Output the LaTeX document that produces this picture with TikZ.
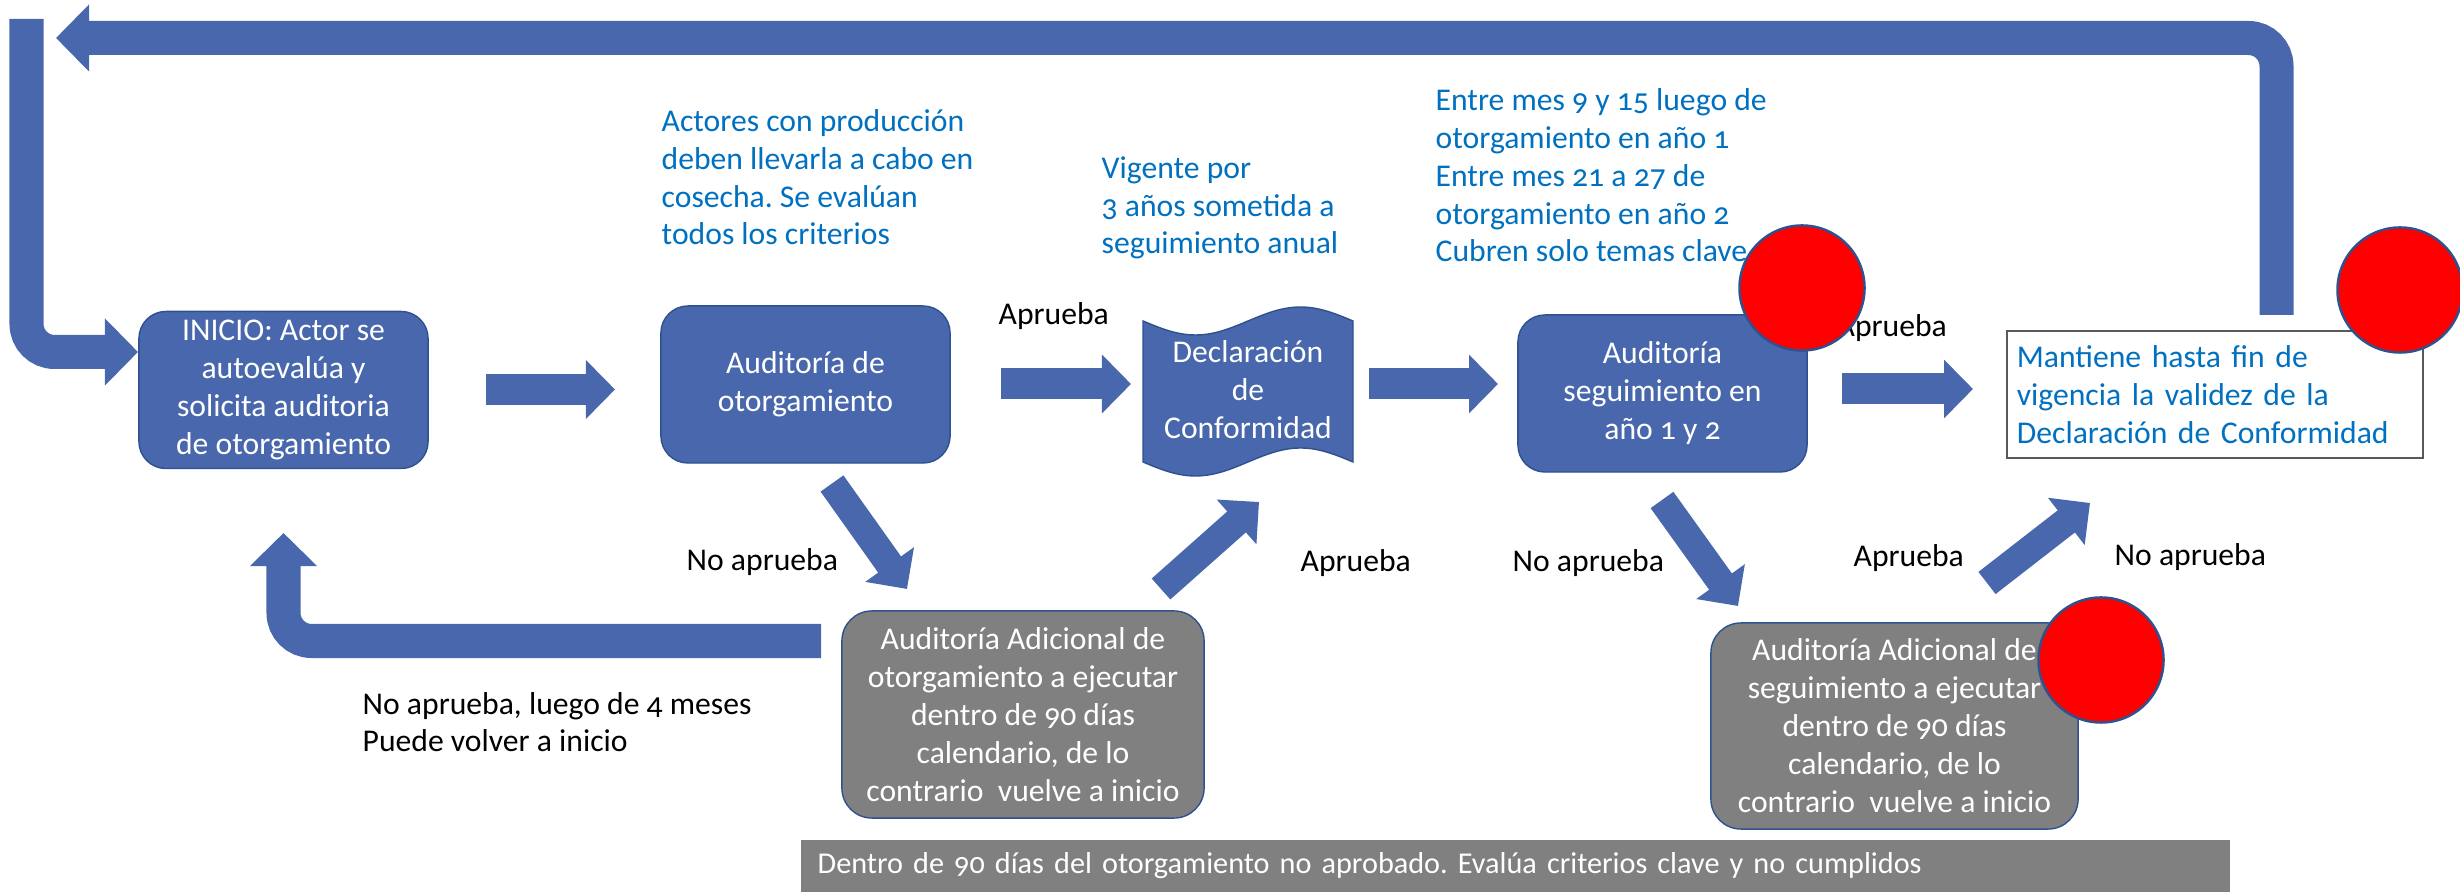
\documentclass[tikz,border=0pt]{standalone}
\usepackage{fontspec}
\setmainfont{Carlito}[Numbers=OldStyle]
\usetikzlibrary{arrows.meta}
\definecolor{azul}{RGB}{72,103,172}
\definecolor{borde}{RGB}{47,82,143}
\definecolor{azultexto}{RGB}{0,112,192}
\definecolor{gris}{RGB}{128,128,128}
\frenchspacing

\begin{document}
\begin{tikzpicture}[x=0.01cm,y=-0.01cm,
  font=\fontsize{9}{10.8}\selectfont,
  caja/.style = {draw=borde, fill=azul, rounded corners=0.27cm, text=white, align=center, minimum width=2.89cm, minimum height=1.57cm, inner sep=0pt},
  cajagris/.style = {draw=borde, fill=gris, rounded corners=0.3cm, text=white, align=center, inner sep=0pt},
  nota/.style = {text=azultexto, align=left, anchor=base west, inner sep=0pt},
  etiqueta/.style = {align=left, anchor=base west, inner sep=0pt},
  flecha/.style = {draw=azul, line width=0.31cm, -{Triangle[length=0.29cm,width=0.57cm]}},
  flechagrande/.style = {draw=azul, line width=0.34cm, -{Triangle[length=0.33cm,width=0.65cm]}},
  flechadiag/.style = {draw=azul, line width=0.28cm, -{Triangle[length=0.3cm,width=0.58cm]}},
  punto/.style = {circle, draw=borde, fill=red, line width=0.7pt, minimum size=1.25cm, inner sep=0pt}
  ]
\useasboundingbox (0,0) rectangle (2460,892);

\coordinate (T1) at (2276.5,315);
\coordinate (T2) at (2276.5,38);
\coordinate (T3) at (56,38);
\coordinate (L1) at (26.5,19);
\coordinate (L2) at (26.5,352);
\coordinate (L3) at (138,352);
\coordinate (U1) at (821,641);
\coordinate (U2) at (283.5,641);
\coordinate (U3) at (283.5,533);
\draw[flechagrande] (T1) [rounded corners=0.28cm] -- (T2) -- (T3);
\draw[flechagrande] (L1) [rounded corners=0.28cm] -- (L2) -- (L3);
\draw[flechagrande] (U1) [rounded corners=0.28cm] -- (U2) -- (U3);

\coordinate (H1) at (486,389.5);
\coordinate (K1) at (615,389.5);
\coordinate (H2) at (1001,384);
\coordinate (K2) at (1131,384);
\coordinate (H3) at (1369,384);
\coordinate (K3) at (1498,384);
\coordinate (H4) at (1842,389);
\coordinate (K4) at (1973,389);
\draw[flecha] (H1) -- (K1);
\draw[flecha] (H2) -- (K2);
\draw[flecha] (H3) -- (K3);
\draw[flecha] (H4) -- (K4);

\coordinate (D1) at (832,483.5);
\coordinate (E1) at (907,589);
\coordinate (D2) at (1161,589);
\coordinate (E2) at (1259,502);
\coordinate (D3) at (1662,500);
\coordinate (E3) at (1738,606);
\coordinate (D4) at (1987,583);
\coordinate (E4) at (2090,503);
\draw[flechadiag] (D1) -- (E1);
\draw[flechadiag] (D2) -- (E2);
\draw[flechadiag] (D3) -- (E3);
\draw[flechadiag] (D4) -- (E4);

\node[caja] (inicio) at (283.5,390) {INICIO: Actor se\\autoevalúa y\\solicita auditoria\\de otorgamiento};
\node[caja] (otorg) at (805.5,384.5) {Auditoría de\\otorgamiento};
\path[fill=azul, draw=borde] (1143,321) sin (1195.5,335) cos (1248,321) sin (1300.5,307) cos (1353,321)
  -- (1353,462) sin (1300.5,448) cos (1248,462) sin (1195.5,476) cos (1143,462) -- cycle;
\node[text=white, align=center, inner sep=0pt] (decl) at (1248,390) {Declaración\\de\\Conformidad};
\node[caja] (seguim) at (1662.5,393.5) {Auditoría\\seguimiento en\\año 1 y 2};
\node[draw=black!65, fill=white, text=azultexto, align=left, text width=3.96cm, inner xsep=0.1cm, inner ysep=0pt, minimum height=1.27cm] (mantiene) at (2215,394.5) {Mantiene hasta fin de\\vigencia la validez de la\\Declaración de Conformidad};
\node[cajagris, minimum width=3.62cm, minimum height=2.07cm] (adotorg) at (1023,714.5) {Auditoría Adicional de\\otorgamiento a ejecutar\\dentro de 90 días\\calendario, de lo\\contrario \ vuelve a inicio};
\node[cajagris, minimum width=3.67cm, minimum height=2.06cm] (adseg) at (1894.5,726) {Auditoría Adicional de\\seguimiento a ejecutar\\dentro de 90 días\\calendario, de lo\\contrario \ vuelve a inicio};
\node[fill=gris, text=white, anchor=west, align=left, text width=13.94cm, inner xsep=0.17cm, inner ysep=0pt, minimum height=0.52cm, font=\fontsize{8.6}{10.3}\selectfont] (banda) at (800,866) {Dentro de 90 días del otorgamiento no aprobado. Evalúa criterios clave y no cumplidos};

% notas: ancladas en la linea base de su ultima linea
\node[nota] (actores) at (661,245) {Actores con producción\\deben llevarla a cabo en\\cosecha. Se evalúan\\todos los criterios};
\node[nota] (vigente) at (1101,254) {Vigente por\\3 años sometida a\\seguimiento anual};
\node[nota] (entre) at (1435,262) {Entre mes 9 y 15 luego de\\otorgamiento en año 1\\Entre mes 21 a 27 de\\otorgamiento en año 2\\Cubren solo temas clave};

\node[etiqueta] (ap1) at (998,325) {Aprueba};
\node[etiqueta] (ap2) at (1300,572) {Aprueba};
\node[etiqueta] (ap3) at (1836,337) {Aprueba};
\node[etiqueta] (ap4) at (1853,567) {Aprueba};
\node[etiqueta] (na1) at (686,571) {No aprueba};
\node[etiqueta] (na2) at (1512,572) {No aprueba};
\node[etiqueta] (na3) at (2114,566) {No aprueba};
\node[etiqueta] (na4) at (362,752) {No aprueba, luego de 4 meses\\Puede volver a inicio};

\node[punto] (r1) at (1802,288) {};
\node[punto] (r2) at (2400,290) {};
\node[punto] (r3) at (2101,660) {};

\end{tikzpicture}
\end{document}
